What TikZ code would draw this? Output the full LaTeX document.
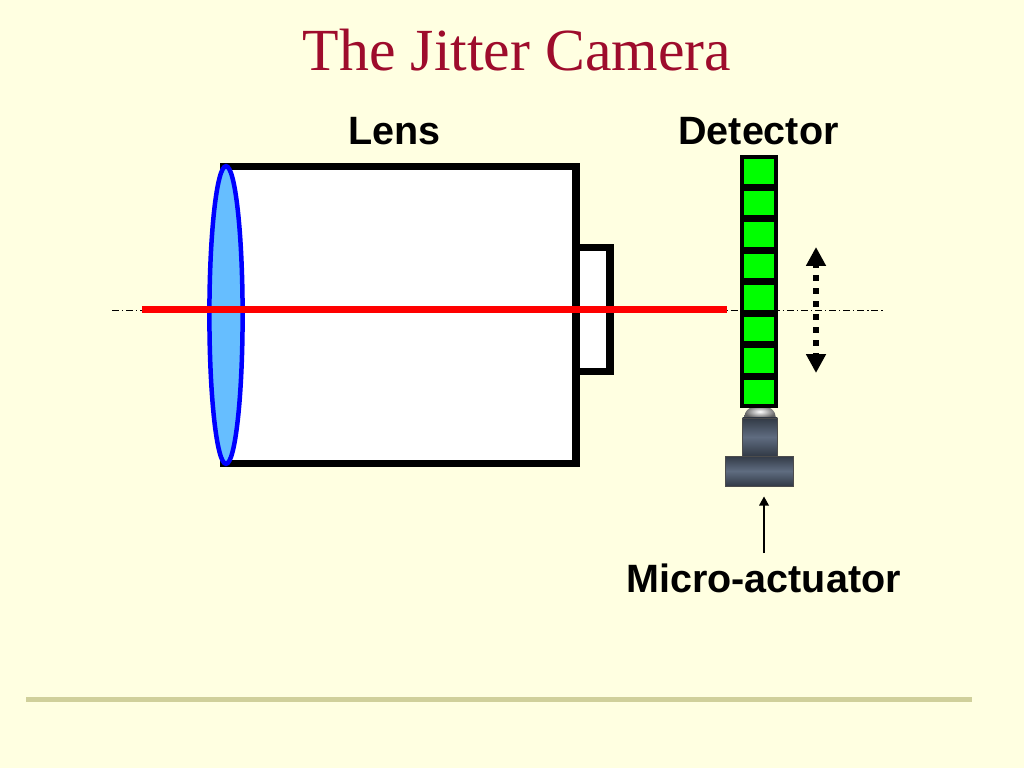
\documentclass[tikz,border=0pt]{standalone}
\usepackage{fontspec}
\setmainfont{Liberation Serif}
\setsansfont{Liberation Sans}
\usetikzlibrary{arrows.meta,shapes.geometric}
\definecolor{pagebg}{RGB}{255,255,225}
\definecolor{titlered}{RGB}{158,12,44}
\definecolor{rulecol}{RGB}{208,208,155}
\definecolor{lensblue}{RGB}{102,190,255}
\definecolor{steeldark}{RGB}{50,58,70}
\definecolor{steelmid}{RGB}{95,108,128}
\tikzset{
  label text/.style={font=\sffamily\bfseries\fontsize{28.1}{32}\selectfont, inner sep=0pt},
  outline/.style={draw=black, fill=white, inner sep=0pt},
  cell/.style={fill={rgb,255:red,0;green,255;blue,0}, inner sep=0pt, minimum width=0.75cm, minimum height=0.62cm},
  steel/.style={draw=black!70, line width=0.5pt, inner sep=0pt, top color=steeldark, bottom color=steeldark, middle color=steelmid}
}
\begin{document}
\begin{tikzpicture}[x=0.025cm, y=-0.025cm]
    \useasboundingbox (0, 0) rectangle (1024, 768);
    \fill[pagebg] (0, 0) rectangle (1024, 768);

    \node[text=titlered, font=\fontsize{42.5}{48}\selectfont, inner sep=0pt] at (517, 50) (title) {The Jitter Camera};
    \node[label text] at (394.5, 131) (lens label) {Lens};
    \node[label text] at (758.5, 131) (detector label) {Detector};
    \node[label text] at (763.5, 578) (actuator label) {Micro-actuator};

    % optical axis
    \coordinate (axis l) at (112, 310);
    \coordinate (axis r) at (885, 310);
    \draw[line width=0.7pt, dash pattern=on 5pt off 2pt on 1pt off 2pt] (axis l) -- (axis r);

    % lens barrel
    \node[outline, line width=5.6pt, minimum width=8.8cm, minimum height=7.42cm] at (400, 315) (barrel) {};
    \node[outline, line width=5pt, minimum width=0.85cm, minimum height=3.12cm] at (593, 309.5) (mount) {};
    \node[draw=blue, fill=lensblue, line width=3.2pt, ellipse, inner sep=0pt, minimum width=0.83cm, minimum height=7.44cm] at (226, 315) (lens) {};

    % light ray
    \coordinate (ray l) at (142, 309.3);
    \coordinate (ray r) at (727, 309.3);
    \draw[red, line width=4.7pt] (ray l) -- (ray r);

    % micro-actuator
    \path[inner color=white, outer color=black!62]
        (744, 418) arc[start angle=180, end angle=0, x radius=16*0.025cm, y radius=13*0.025cm] -- cycle;
    \node[steel, minimum width=0.865cm, minimum height=0.95cm] at (760, 437) (stem) {};
    \node[steel, minimum width=1.71cm, minimum height=0.75cm] at (759.5, 471) (base) {};

    % detector
    \node[fill=black, inner sep=0pt, minimum width=0.95cm, minimum height=6.325cm] at (759, 281.5) (detector) {};
    \foreach \x in {1,...,8}
    \node[cell] at (759, 171.5 + 31.5 * \x - 31.5) (cell \x) {};

    % motion arrow
    \coordinate (motion t) at (816, 247);
    \coordinate (motion b) at (816, 373);
    \draw[{Triangle[length=13.5pt, width=13.5pt]}-{Triangle[length=13.5pt, width=13.5pt]}, line width=4.3pt, dash pattern=on 4.3pt off 5pt, dash phase=2.1pt] (motion t) -- (motion b);

    % pointer to the actuator
    \coordinate (pointer) at (764, 553);
    \draw[-{Triangle[length=6.5pt, width=6.6pt]}, line width=2.1pt] (pointer) -- ([yshift=-10*0.025cm]base.south -| pointer);

    % footer rule
    \coordinate (rule l) at (26, 699.5);
    \coordinate (rule r) at (972, 699.5);
    \draw[rulecol, line width=2.9pt] (rule l) -- (rule r);
\end{tikzpicture}
\end{document}
